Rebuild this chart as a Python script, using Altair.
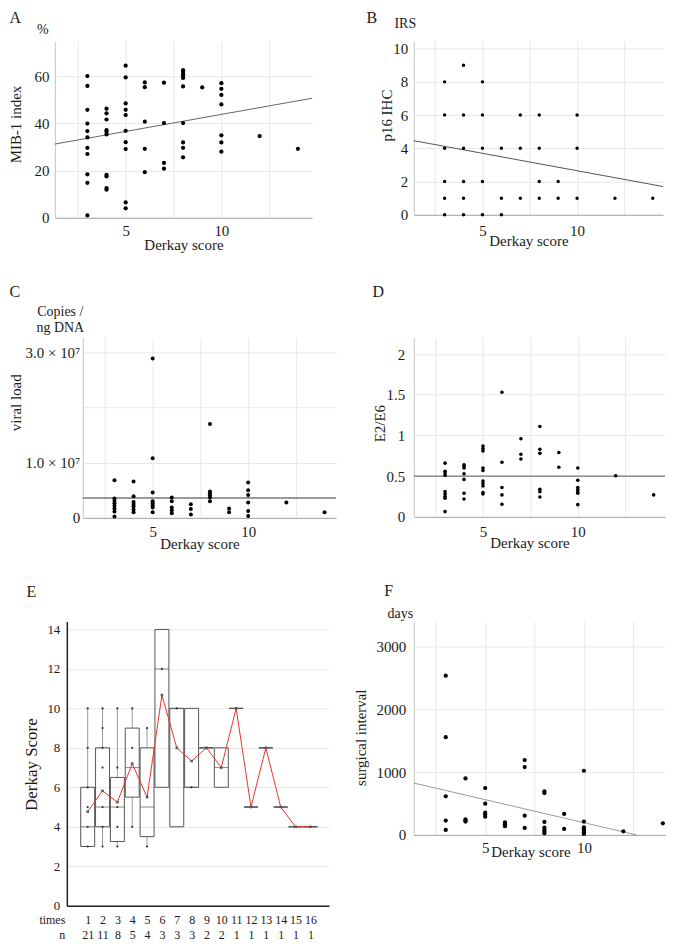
import json
import altair as alt
import pandas as pd

FONT = "Liberation Serif"
INK = "#1a1a1a"
GRID = "#e8e8e8"

# ---------------- data ----------------
DERKAY_TICKS = [2.5, 5, 7.5, 10, 12.5]

# A: MIB-1 index (%)
A_score = [3, 3, 3, 3, 3, 3, 3, 3, 3, 3, 3,
           4, 4, 4, 4, 4, 4, 4, 4, 4, 4,
           5, 5, 5, 5, 5, 5, 5, 5, 5, 5,
           6, 6, 6, 6, 6,
           7, 7, 7, 7,
           8, 8, 8, 8, 8, 8, 8, 8, 8, 8,
           9,
           10, 10, 10, 10, 10, 10, 10,
           12, 14]
A_mib = [60, 55.8, 45.7, 39.9, 36.7, 34, 29.6, 27, 18.4, 14.8, 1,
         46.2, 44.2, 41.6, 37.1, 36.3, 35.3, 18.2, 17.5, 12.6, 11.9,
         64.4, 59.4, 48.4, 45.7, 43.5, 36.8, 32, 29.1, 6.5, 4,
         57.3, 55.3, 40.7, 29.2, 19.3,
         57.2, 40.1, 23.2, 20.8,
         62.5, 61.7, 60.8, 60, 59.2, 55.6, 40.1, 31.9, 29.6, 25.6,
         55.2,
         57, 54.6, 52, 48, 34.9, 31.9, 28,
         34.6, 29.2]
A_fit_x = [1.3, 14.74]
A_fit_y = [31.2, 50.6]

# B: p16 IHC (IRS)
B_score = [3, 3, 3, 3, 3, 3, 4, 4, 4, 4, 4, 4, 5, 5, 5, 5, 5, 6, 6, 6,
           7, 7, 7, 8, 8, 8, 8, 9, 9, 10, 10, 10, 12, 14]
B_irs = [8, 6, 4, 2, 1, 0, 9, 6, 4, 2, 1, 0, 8, 6, 4, 2, 0, 4, 1, 0,
         6, 4, 1, 6, 4, 2, 1, 2, 1, 6, 4, 1, 1, 1]
B_fit_x = [1.37, 14.54]
B_fit_y = [4.46, 1.7]

# C: viral load (copies / ng DNA)
C_score = [3, 3, 3, 3, 3, 3, 3, 3,
           4, 4, 4, 4, 4, 4, 4,
           5, 5, 5, 5, 5, 5, 5, 5,
           6, 6, 6, 6, 6,
           7, 7, 7,
           8, 8, 8, 8, 8, 8,
           9, 9,
           10, 10, 10, 10, 10, 10,
           12, 14]
C_load = [6.8e6, 3.5e6, 3.1e6, 2.65e6, 2.2e6, 1.7e6, 1.15e6, 0.25e6,
          6.6e6, 3.9e6, 2.9e6, 2.5e6, 2.1e6, 1.5e6, 1.0e6,
          28.9e6, 10.8e6, 4.6e6, 3.0e6, 2.65e6, 2.3e6, 1.9e6, 1.0e6,
          3.7e6, 3.0e6, 1.9e6, 1.4e6, 0.84e6,
          2.47e6, 1.6e6, 0.6e6,
          17.0e6, 4.8e6, 4.45e6, 4.1e6, 3.7e6, 3.0e6,
          1.7e6, 1.0e6,
          6.4e6, 5.0e6, 4.15e6, 2.8e6, 1.25e6, 0.35e6,
          2.8e6, 1.0e6]
C_fit_x = [1.34, 14.6]
C_fit_y = [3.6e6, 3.6e6]

# D: E2/E6
D_score = [3, 3, 3, 3, 3, 3, 3, 3, 3,
           4, 4, 4, 4, 4, 4, 4,
           5, 5, 5, 5, 5, 5, 5, 5, 5, 5,
           6, 6, 6, 6, 6,
           7, 7, 7,
           8, 8, 8, 8, 8, 8,
           9, 9,
           10, 10, 10, 10, 10, 10, 10,
           12, 14]
D_ratio = [0.66, 0.56, 0.54, 0.51, 0.31, 0.28, 0.25, 0.23, 0.065,
           0.64, 0.62, 0.60, 0.53, 0.46, 0.29, 0.22,
           0.87, 0.84, 0.81, 0.60, 0.57, 0.44, 0.41, 0.38, 0.30, 0.28,
           1.53, 0.67, 0.36, 0.27, 0.155,
           0.96, 0.77, 0.71,
           1.11, 0.83, 0.78, 0.34, 0.31, 0.245,
           0.79, 0.61,
           0.60, 0.45, 0.36, 0.335, 0.31, 0.29, 0.15,
           0.506, 0.27]
D_fit_x = [1.35, 14.6]
D_fit_y = [0.5, 0.5]

# F: surgical interval (days)
F_score = [3, 3, 3, 3, 3,
           4, 4, 4, 4,
           5, 5, 5, 5, 5,
           6, 6, 6,
           7, 7, 7, 7,
           8, 8, 8, 8, 8, 8, 8,
           9, 9,
           10, 10, 10, 10, 10, 10, 10,
           12, 14]
F_days = [2539, 1558, 615, 228, 80,
          901, 249, 228, 212,
          747, 498, 355, 323, 291,
          201, 170, 138,
          1193, 1081, 307, 111,
          694, 668, 207, 117, 85, 53, 26,
          334, 95,
          1023, 212, 122, 90, 64, 37, 16,
          58, 185]
F_fit_x = [1.38, 12.66]
F_fit_y = [827, 0]

# E: Derkay score by number of surgeries
E_times = [1, 2, 3, 4, 5, 6, 7, 8, 9, 10, 11, 12, 13, 14, 15, 16]
E_n = [21, 11, 8, 5, 4, 3, 3, 3, 2, 2, 1, 1, 1, 1, 1, 1]
E_low = [3, 3, 3, 4, 3, 6, 4, 6, 8, 6, 10, 5, 8, 5, 4, 4]
E_q1 = [3, 4, 3.25, 5.5, 3.5, 6, 4, 6, 8, 6, 10, 5, 8, 5, 4, 4]
E_med = [4, 5, 5, 7, 5, 12, 10, 6, 8, 7, 10, 5, 8, 5, 4, 4]
E_q3 = [6, 8, 6.5, 9, 8, 14, 10, 10, 8, 8, 10, 5, 8, 5, 4, 4]
E_high = [10, 10, 10, 10, 9, 14, 10, 10, 8, 8, 10, 5, 8, 5, 4, 4]
E_mean = [4.77, 5.82, 5.25, 7.2, 5.5, 10.67, 8, 7.33, 8, 7, 10, 5, 8, 5, 4, 4]
E_dot_times = [1, 1, 1, 1, 1, 1, 2, 2, 2, 2, 2, 2, 2, 3, 3, 3, 3, 3,
               4, 4, 4, 5, 5, 6, 7, 8]
E_dot_score = [3, 4, 5, 6, 8, 10, 3, 4, 5, 7, 8, 9, 10, 3, 4, 5, 7, 10,
               4, 8, 10, 3, 9, 12, 10, 6]

SPACER = [0]


# ---------------- helpers ----------------
def axis_text(**kw):
    base = dict(labelFont=FONT, labelColor=INK, titleFont=FONT, titleColor=INK,
                titleFontWeight="normal", ticks=False, labelFlush=False,
                labelOverlap=False)
    base.update(kw)
    return alt.Axis(**base)


def letter_axis(text, dx, y):
    # panel letter drawn as the title of an otherwise empty top axis
    return axis_text(orient="top", labels=False, domain=False, grid=False,
                     title=text, titleX=dx, titleY=y, titleAlign="left",
                     titleBaseline="alphabetic", titleAngle=0, titleFontSize=16)


def spacer(width):
    return alt.Chart(pd.DataFrame({"s": SPACER})).mark_point(size=0, opacity=0).encode(
        x=alt.X("s:Q", axis=None), y=alt.Y("s:Q", axis=None)
    ).properties(width=width, height=1)


def derkay_panel(xs, ys, fit_x, fit_y, *, w, h, xdom, ydom, yvalues, ylabel_pad,
                 ytitle, ytitle_x, ytitle_y, unit, unit_x, unit_y, xlabel_pad,
                 xtitle_x, xtitle_y, letter, letter_dx, letter_y, dot,
                 fit_color, fit_width, ylabel_expr=None, yformat=None):
    pts = pd.DataFrame({"score": xs, "value": ys})
    fit = pd.DataFrame({"score": fit_x, "value": fit_y})
    xscale = alt.Scale(domain=xdom, nice=False, zero=False)
    x_main = alt.X("score:Q", scale=xscale,
                   axis=axis_text(values=DERKAY_TICKS,
                                  labelExpr="datum.value == 5 || datum.value == 10 ? format(datum.value, 'd') : ''",
                                  labelFontSize=15, labelPadding=xlabel_pad, grid=True,
                                  gridColor=GRID, domainColor="#a6a6a6",
                                  title="Derkay score", titleFontSize=15,
                                  titleX=xtitle_x, titleY=xtitle_y, titleAlign="center",
                                  titleBaseline="alphabetic"))
    x_top = alt.X("score:Q", scale=xscale, axis=letter_axis(letter, letter_dx, letter_y))
    yscale = alt.Scale(domain=ydom, nice=False, zero=False)
    ykw = dict(orient="left", values=yvalues, labelFontSize=15,
               labelPadding=ylabel_pad, grid=True, gridColor=GRID,
               domainColor="#c4c4c4", title=ytitle, titleFontSize=15,
               titleAngle=270, titleX=ytitle_x, titleY=ytitle_y,
               titleAlign="center", titleBaseline="middle")
    if ylabel_expr:
        ykw["labelExpr"] = ylabel_expr
    if yformat:
        ykw["format"] = yformat
    main_axis = axis_text(**ykw)
    if unit is not None:
        unit_axis = axis_text(orient="left", values=yvalues, labels=False,
                              domain=False, grid=False, title=unit,
                              titleFontSize=14, titleAngle=0, titleX=unit_x,
                              titleY=unit_y, titleAlign="center",
                              titleBaseline="alphabetic", titleLineHeight=16)
    else:
        unit_axis = main_axis
    fit_layer = alt.Chart(fit).mark_line(color=fit_color, strokeWidth=fit_width).encode(
        x=x_top, y=alt.Y("value:Q", scale=yscale, axis=unit_axis))
    pt_layer = alt.Chart(pts).mark_circle(size=dot, color="#000000", opacity=1).encode(
        x=x_main, y=alt.Y("value:Q", scale=yscale, axis=main_axis))
    layer = alt.layer(fit_layer, pt_layer).resolve_axis(x="independent")
    if unit is not None:
        layer = layer.resolve_axis(x="independent", y="independent")
    return layer.properties(width=w, height=h)


# ---------------- panels ----------------
pA = derkay_panel(A_score, A_mib, A_fit_x, A_fit_y, w=258, h=177,
                  xdom=[1.3, 14.74], ydom=[0, 74.7], yvalues=[0, 20, 40, 60],
                  ylabel_pad=6, ytitle="MIB-1 index", ytitle_x=-39, ytitle_y=83,
                  unit="%", unit_x=-12.5, unit_y=-8, xlabel_pad=6,
                  xtitle_x=129, xtitle_y=32, letter="A", letter_dx=-46,
                  letter_y=-19, dot=18, fit_color="#666666", fit_width=1)

pB = derkay_panel(B_score, B_irs, B_fit_x, B_fit_y, w=250, h=174,
                  xdom=[1.37, 14.54], ydom=[0, 10.44], yvalues=[0, 2, 4, 6, 8, 10],
                  ylabel_pad=6, ytitle="p16 IHC", ytitle_x=-27, ytitle_y=74,
                  unit="IRS", unit_x=-9, unit_y=-14, xlabel_pad=9,
                  xtitle_x=115, xtitle_y=31, letter="B",
                  letter_dx=-48, letter_y=-19, dot=12,
                  fit_color="#555555", fit_width=1)

pC = derkay_panel(C_score, C_load, C_fit_x, C_fit_y, w=254, h=181,
                  xdom=[1.34, 14.6], ydom=[0, 3.271e7],
                  yvalues=[0, 1e7, 2e7, 3e7],
                  ylabel_expr="datum.value == 0 ? '0' : (datum.value == 20000000 ? '' : format(datum.value / 10000000, '.1f') + ' \u00d7 10\u2077')",
                  ylabel_pad=3, ytitle="viral load", ytitle_x=-67, ytitle_y=65,
                  unit=["Copies /", "ng DNA"], unit_x=-23, unit_y=-22,
                  xlabel_pad=7, xtitle_x=117, xtitle_y=31, letter="C",
                  letter_dx=-74, letter_y=-41, dot=16,
                  fit_color="#777777", fit_width=1.3)

pD = derkay_panel(D_score, D_ratio, D_fit_x, D_fit_y, w=252, h=180,
                  xdom=[1.35, 14.6], ydom=[0, 2.204],
                  yvalues=[0, 0.5, 1, 1.5, 2], yformat="~g",
                  ylabel_pad=9, ytitle="E2/E6", ytitle_x=-34, ytitle_y=86,
                  unit=None, unit_x=0, unit_y=0, xlabel_pad=8,
                  xtitle_x=116, xtitle_y=31, letter="D",
                  letter_dx=-42, letter_y=-41, dot=13,
                  fit_color="#777777", fit_width=1.3)

pF = derkay_panel(F_score, F_days, F_fit_x, F_fit_y, w=252, h=214,
                  xdom=[1.38, 14.11], ydom=[0, 3402],
                  yvalues=[0, 1000, 2000, 3000], yformat="d",
                  ylabel_pad=8, ytitle="surgical interval", ytitle_x=-53,
                  ytitle_y=116, unit="days", unit_x=-14, unit_y=-4,
                  xlabel_pad=6, xtitle_x=117, xtitle_y=22, letter="F",
                  letter_dx=-30, letter_y=-26, dot=18,
                  fit_color="#9a9a9a", fit_width=1)

# E panel: box plots
box_df = pd.DataFrame({"times": E_times, "low": E_low, "q1": E_q1, "med": E_med,
                       "q3": E_q3, "high": E_high, "mean": E_mean})
dot_df = pd.DataFrame({"times": E_dot_times, "score": E_dot_score})

n_labels = json.dumps([str(v) for v in E_n])
xscaleE = alt.Scale(domain=[-0.07, 16.92], nice=False, zero=False)
xE = alt.X("times:Q", scale=xscaleE,
           axis=axis_text(values=E_times,
                          labelExpr="[format(datum.value, 'd'), " + n_labels + "[datum.value - 1]]",
                          labelFontSize=12, labelPadding=18, labelBaseline="alphabetic",
                          labelLineHeight=15, grid=False, domainColor="#222222",
                          domainWidth=1.5, title=["times", "n"], titleFontSize=12,
                          titleX=-2, titleY=18, titleAlign="right",
                          titleBaseline="alphabetic", titleLineHeight=15))
xE_none = alt.X("times:Q", scale=xscaleE, axis=None)
xE_top = alt.X("times:Q", scale=xscaleE, axis=letter_axis("E", -41, -25))
yscaleE = alt.Scale(domain=[0, 14.4], nice=False, zero=False)
yaxE = axis_text(orient="left", values=[0, 2, 4, 6, 8, 10, 12, 14], labelFontSize=13,
                 labelPadding=7, grid=True, gridColor=GRID, domainColor="#222222",
                 domainWidth=1.5, title="Derkay Score", titleFontSize=17,
                 titleAngle=270, titleX=-35, titleY=143, titleAlign="center",
                 titleBaseline="middle")


def yE(field):
    return alt.Y(field + ":Q", scale=yscaleE, axis=yaxE)


base_box = alt.Chart(box_df)
w_lo = base_box.mark_rule(color="#9a9a9a", strokeWidth=1).encode(x=xE, y=yE("low"), y2="q1:Q")
w_hi = base_box.mark_rule(color="#9a9a9a", strokeWidth=1).encode(x=xE_none, y=yE("q3"), y2="high:Q")
boxes = base_box.mark_bar(filled=False, color="#555555", strokeWidth=1, size=14).encode(
    x=xE_none, y=yE("q1"), y2="q3:Q")
meds = base_box.mark_tick(orient="horizontal", color="#555555", size=14, thickness=1).encode(
    x=xE_none, y=yE("med"))
dots = alt.Chart(dot_df).mark_circle(size=5, color="#333333", opacity=1).encode(
    x=xE_none, y=yE("score"))
mean_line = base_box.mark_line(color="#e8352b", strokeWidth=1).encode(x=xE_none, y=yE("mean"))
mean_pts = base_box.mark_point(shape="cross", angle=45, size=10, filled=True,
                               color="#555555", opacity=1).encode(x=xE_top, y=yE("mean"))

pE = alt.layer(w_lo, w_hi, boxes, meds, dots, mean_line, mean_pts).resolve_axis(
    x="independent").properties(width=263, height=285)

row1 = alt.hconcat(spacer(1), alt.hconcat(pA, pB, spacing=52), spacing=0)
row2 = alt.hconcat(spacer(1), alt.hconcat(pC, pD, spacing=33), spacing=0)
row3 = alt.hconcat(spacer(15), alt.hconcat(pE, pF, spacing=25), spacing=0)
chart = alt.vconcat(row1, row2, row3, spacing=31).properties(padding=0)
chart = chart.configure(font=FONT).configure_view(stroke=None)

chart.save("out.html", embed_options={"renderer": "svg", "actions": False})
